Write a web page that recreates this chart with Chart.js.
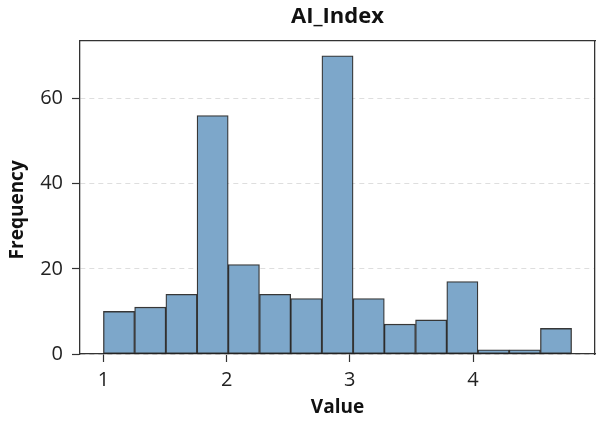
<!DOCTYPE html>
<html lang="en">
<head>
    <meta charset="UTF-8">
    <title>AI_Index</title>
    <script src="https://cdn.jsdelivr.net/npm/chart.js"></script>
    <style>
        html, body { margin: 0; padding: 0; background: #fff; }
        canvas { display: block; }
    </style>
</head>
<body>
    <canvas id="histChart" width="597" height="421"></canvas>

    <script>
        // histogram bins (edges) and counts
        const binEdges = [1.000, 1.253, 1.507, 1.760, 2.013, 2.267, 2.520, 2.773,
                          3.027, 3.280, 3.533, 3.787, 4.040, 4.293, 4.547, 4.800];
        const counts = [10, 11, 14, 56, 21, 14, 13, 70, 13, 7, 8, 17, 1, 1, 6];
        const xTicks = [1, 2, 3, 4];
        const yTicks = [0, 20, 40, 60];

        const points = counts.map((c, i) => ({
            x: (binEdges[i] + binEdges[i + 1]) / 2,
            y: c
        }));

        const FONT = "'Open Sans', 'DejaVu Sans', sans-serif";
        const axisColor = '#333';

        new Chart(document.getElementById('histChart'), {
            type: 'bar',
            data: {
                datasets: [{
                    label: 'AI_Index',
                    data: points,
                    backgroundColor: '#7da7ca',
                    borderColor: 'rgba(20,20,20,0.85)',
                    borderWidth: 1.3,
                    borderSkipped: false,
                    categoryPercentage: 1.0,
                    barPercentage: 1.0
                }]
            },
            options: {
                responsive: false,
                animation: false,
                layout: { padding: { left: 0, right: 1, top: 0, bottom: 0 } },
                plugins: {
                    legend: { display: false },
                    tooltip: { enabled: false }
                },
                scales: {
                    x: {
                        type: 'linear',
                        position: 'bottom',
                        min: 0.81,
                        max: 4.99,
                        offset: false,
                        afterBuildTicks: (s) => { s.ticks = xTicks.map(v => ({ value: v })); },
                        afterFit: (s) => { s.height = 67; },
                        grid: {
                            offset: false,
                            drawOnChartArea: false,
                            drawTicks: true,
                            tickLength: 8,
                            tickColor: axisColor,
                            tickWidth: 1.2
                        },
                        border: { display: true, color: axisColor, width: 1.3 },
                        ticks: {
                            font: { family: FONT, size: 20 },
                            color: '#222',
                            padding: 6,
                            maxRotation: 0
                        },
                        title: {
                            display: true,
                            text: 'Value',
                            font: { family: FONT, size: 19, weight: 'bold' },
                            color: '#111',
                            padding: { top: 0, bottom: 2 }
                        }
                    },
                    xTop: {
                        type: 'linear',
                        position: 'top',
                        afterFit: (s) => { s.height = 41; },
                        grid: { display: false },
                        ticks: { display: false },
                        border: { display: true, color: axisColor, width: 1.3 },
                        title: {
                            display: true,
                            text: 'AI_Index',
                            font: { family: FONT, size: 22, weight: 'bold' },
                            color: '#111',
                            padding: { top: 4, bottom: 0 }
                        }
                    },
                    y: {
                        type: 'linear',
                        position: 'left',
                        min: 0,
                        max: 73.5,
                        afterBuildTicks: (s) => { s.ticks = yTicks.map(v => ({ value: v })); },
                        afterFit: (s) => { s.width = 80; },
                        grid: {
                            color: '#dedede',
                            lineWidth: 1,
                            drawTicks: true,
                            tickLength: 8,
                            tickColor: axisColor,
                            tickWidth: 1.2,
                            tickBorderDash: []
                        },
                        border: { display: true, color: axisColor, width: 1.3, dash: [5, 4] },
                        ticks: {
                            font: { family: FONT, size: 20 },
                            color: '#222',
                            padding: 9
                        },
                        title: {
                            display: true,
                            text: 'Frequency     ',
                            font: { family: FONT, size: 19, weight: 'bold' },
                            color: '#111',
                            padding: { top: 6, bottom: 0 }
                        }
                    },
                    yRight: {
                        type: 'linear',
                        position: 'right',
                        afterFit: (s) => { s.width = 1; },
                        grid: { display: false },
                        ticks: { display: false },
                        border: { display: true, color: axisColor, width: 1.3 }
                    }
                }
            }
        });
    </script>
</body>
</html>
